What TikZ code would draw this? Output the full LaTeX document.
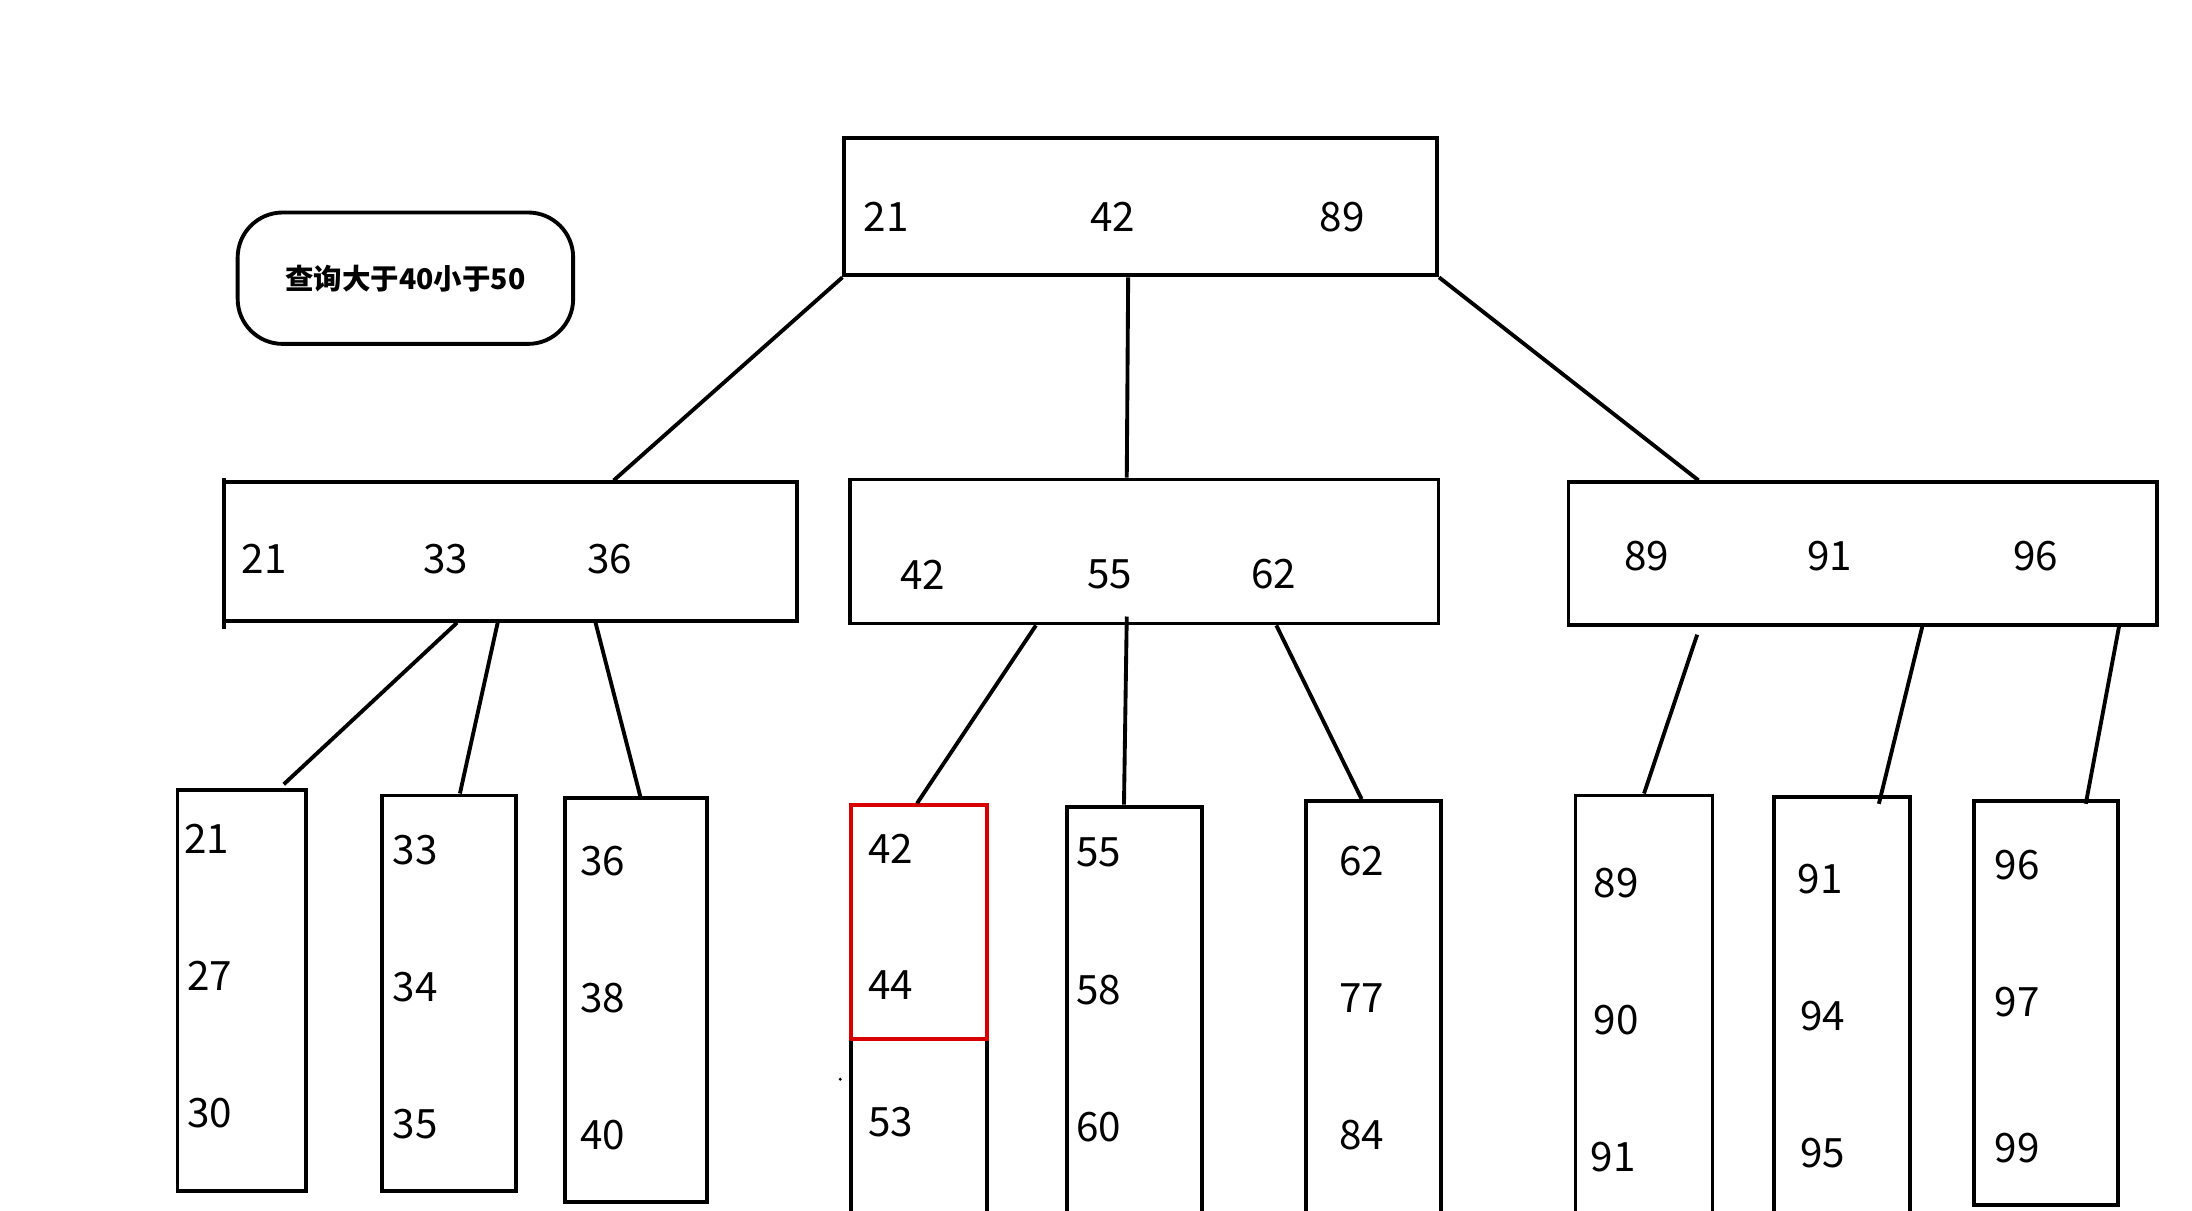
\documentclass[tikz,border=0pt]{standalone}
\usepackage{fontspec}
\setmainfont{Noto Sans CJK SC}
\usetikzlibrary{fit,calc}
\begin{document}
\begin{tikzpicture}[x=0.01398cm,y=-0.01398cm,
  box/.style={draw=black,line width=1.1pt,inner sep=0pt,fit={#1}},
  num/.style={font=\fontsize{11.5}{14}\selectfont,inner sep=0pt,anchor=center},
  link/.style={draw=black,line width=1.1pt}]
\useasboundingbox[fill=white] (0,0) rectangle (1568,866);
\begin{scope}
\clip (0,0) rectangle (1568,866);
% query box
\node[draw=black,line width=1.1pt,rounded corners=0.45cm,minimum width=240*0.01398cm,minimum height=94*0.01398cm,
  font=\fontsize{8.1}{9}\selectfont\bfseries,inner sep=0pt] (query) at (290,199) {查询大于40小于50};
% root
\node[box={(604,99)(1028,197)}] (root) {};
\node[num] (r1) at (634,155) {21};
\node[num] (r2) at (796,155) {42};
\node[num] (r3) at (960,155) {89};
% middle level
\node[box={(160,345)(570,444)}] (mA) {};
\node[num] (a1) at (189,400) {21};
\node[num] (a2) at (319,400) {33};
\node[num] (a3) at (436,400) {36};
\node[box={(608,343)(1029,446)}] (mB) {};
\node[num] (b1) at (660,411) {42};
\node[num] (b2) at (794,411) {55};
\node[num] (b3) at (911,411) {62};
\node[box={(1122,345)(1543,447)}] (mC) {};
\node[num] (c1) at (1178,398) {89};
\node[num] (c2) at (1309,398) {91};
\node[num] (c3) at (1456,398) {96};
% leaves
\node[box={(127,565)(219,852)}] (L1) {};
\node[num] at (148,600) {21};
\node[num] at (150,698) {27};
\node[num] at (150,796) {30};
\node[box={(273,569)(369,852)}] (L2) {};
\node[num] at (297,608) {33};
\node[num] at (297,706) {34};
\node[num] at (297,804) {35};
\node[box={(404,571)(506,860)}] (L3) {};
\node[num] at (431,616) {36};
\node[num] at (431,714) {38};
\node[num] at (431,812) {40};
\node[box={(609,576)(706,880)}] (L4) {};
\node[num] at (637,607) {42};
\node[num] at (637,705) {44};
\node[num] at (637,803) {53};
\node[box={(763,577)(860,880)}] (L5) {};
\node[num] at (786,610) {55};
\node[num] at (786,708) {58};
\node[num] at (786,806) {60};
\node[box={(934,573)(1031,880)}] (L6) {};
\node[num] at (974,616) {62};
\node[num] at (974,714) {77};
\node[num] at (974,812) {84};
\node[box={(1127,569)(1225,880)}] (L7) {};
\node[num] at (1156,632) {89};
\node[num] at (1156,730) {90};
\node[num] at (1154,828) {91};
\node[box={(1269,570)(1366,880)}] (L8) {};
\node[num] at (1302,629) {91};
\node[num] at (1304,727) {94};
\node[num] at (1304,825) {95};
\node[box={(1412,573)(1515,862)}] (L9) {};
\node[num] at (1443,619) {96};
\node[num] at (1443,717) {97};
\node[num] at (1443,821) {99};
% red highlight
\node[draw=red!85!black,line width=1.2pt,inner sep=0pt,fit={(609,576)(706,743)}] (hl) {};
% small speck
\fill (601,772) circle (1.2);
% root -> middle
\draw[link] (root.south west) -- (mA.north -| 439,0);
\draw[link] (root.south -| 807,0) -- (mB.north -| 806,0);
\draw[link] (root.south east) -- (mC.north -| 1215,0);
% left middle -> leaves
\draw[link] (mA.south -| 327,0) -- (203,561);
\draw[link] (mA.south -| 356,0) -- (L2.north -| 329,0);
\draw[link] (mA.south -| 426,0) -- (L3.north -| 458,0);
% middle -> leaves
\draw[link] (mB.south -| 741,0) -- (L4.north -| 656,0);
\draw[link] (806,441) -- (L5.north -| 804,0);
\draw[link] (mB.south -| 913,0) -- (L6.north -| 974,0);
% right -> leaves
\draw[link] (1214,454) -- (L7.north -| 1176,0);
\draw[link] (mC.south -| 1375,0) -- (1344,575);
\draw[link] (1516,447) -- (1492,575);
% slight overhang of left middle box edge
\draw[link] (160,342) -- (160,450);
\end{scope}
\end{tikzpicture}
\end{document}
